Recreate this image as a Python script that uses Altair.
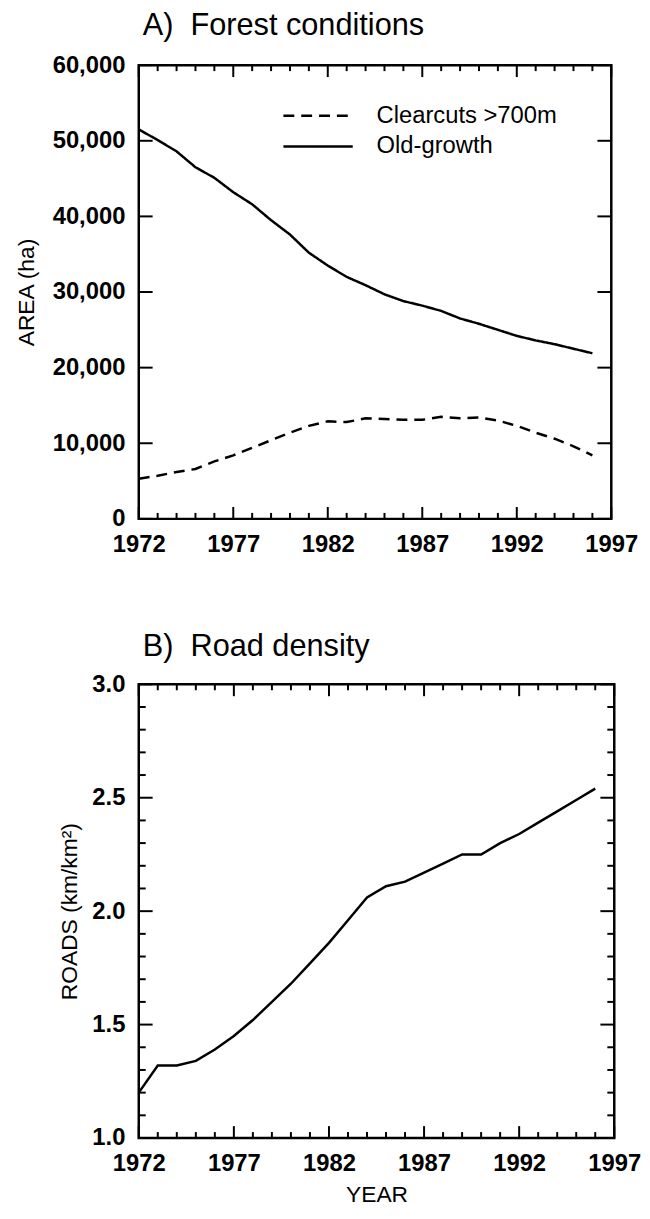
import altair as alt
import pandas as pd

# ---- data ----
years = [1972, 1973, 1974, 1975, 1976, 1977, 1978, 1979, 1980, 1981, 1982, 1983,
         1984, 1985, 1986, 1987, 1988, 1989, 1990, 1991, 1992, 1993, 1994, 1995, 1996]
old_growth = [51500, 50100, 48600, 46500, 45100, 43200, 41600, 39500, 37600, 35200,
              33500, 32000, 30900, 29700, 28800, 28200, 27500, 26500, 25800, 25000,
              24200, 23600, 23100, 22500, 21900]
clearcuts = [5300, 5700, 6200, 6600, 7600, 8400, 9400, 10400, 11400, 12300,
             12900, 12800, 13300, 13200, 13100, 13100, 13500, 13300, 13400, 13000,
             12300, 11400, 10600, 9600, 8400]
roads = [1.20, 1.32, 1.32, 1.34, 1.39, 1.45, 1.52, 1.60, 1.68, 1.77,
         1.86, 1.96, 2.06, 2.11, 2.13, 2.17, 2.21, 2.25, 2.25, 2.30,
         2.34, 2.39, 2.44, 2.49, 2.54]
series_names = ["Clearcuts >700m", "Old-growth"]

# tick positions
x_major = [1972, 1977, 1982, 1987, 1992, 1997]
x_all = [1972, 1973, 1974, 1975, 1976, 1977, 1978, 1979, 1980, 1981, 1982, 1983, 1984,
         1985, 1986, 1987, 1988, 1989, 1990, 1991, 1992, 1993, 1994, 1995, 1996, 1997]
x_minor = [v for v in x_all if v not in x_major]
ya_major = [0, 10000, 20000, 30000, 40000, 50000, 60000]
yb_major = [1.0, 1.5, 2.0, 2.5, 3.0]
yb_all = [1.0, 1.1, 1.2, 1.3, 1.4, 1.5, 1.6, 1.7, 1.8, 1.9, 2.0,
          2.1, 2.2, 2.3, 2.4, 2.5, 2.6, 2.7, 2.8, 2.9, 3.0]
yb_minor = [v for v in yb_all if v not in yb_major]

FONT = "Liberation Sans"
WA, HA = 477, 458
WB, HB = 480, 458

df_a = pd.DataFrame({
    "year": years * 2,
    "area": clearcuts + old_growth,
    "series": [series_names[0]] * len(years) + [series_names[1]] * len(years),
})
df_b = pd.DataFrame({"year": years, "roads": roads})

lab = dict(labelFont=FONT, labelFontSize=24, labelFontWeight="bold", labelColor="black",
           titleFont=FONT, titleFontSize=23, titleFontWeight="normal", titleColor="black",
           grid=False, domain=False)

xscale = alt.Scale(domain=[1972, 1997], nice=False, zero=False)


def x_ticks(xenc, vals, length, H, bottom):
    y0 = H if bottom else 0
    y1 = H - length if bottom else length
    return alt.Chart(pd.DataFrame({"year": vals})).mark_rule(color="black", strokeWidth=2).encode(
        x=xenc, y=alt.value(y0), y2=alt.value(y1),
    )


def y_ticks(yenc, field, vals, length, W, left):
    x0 = 0 if left else W
    x1 = length if left else W - length
    return alt.Chart(pd.DataFrame({field: vals})).mark_rule(color="black", strokeWidth=2).encode(
        y=yenc, x=alt.value(x0), x2=alt.value(x1),
    )


def panel(df, yfield, yscale, ytick_sets, ytitle, ytitle_pos, yfmt, ymajor, W, H,
          title, title_off, xtitle, with_legend):
    x_lab = alt.X("year:Q", scale=xscale,
                  axis=alt.Axis(orient="bottom", values=x_major, format="d", ticks=False,
                                labelFlush=False, labelPadding=14, title=xtitle,
                                titlePadding=8, **lab))
    y_lab = alt.Y(f"{yfield}:Q", scale=yscale,
                  axis=alt.Axis(orient="left", values=ymajor, format=yfmt, ticks=False,
                                labelPadding=14, title=ytitle, **ytitle_pos, **lab))
    if with_legend:
        main = alt.Chart(df).mark_line(color="black", strokeWidth=2.5).encode(
            x=x_lab, y=y_lab,
            strokeDash=alt.StrokeDash(
                "series:N",
                scale=alt.Scale(domain=series_names, range=[[11, 7], [1, 0]]),
                legend=alt.Legend(orient="none", legendX=169, legendY=39, title=None,
                                  symbolType="M-3.5,0H3.5", symbolSize=400,
                                  symbolStrokeWidth=2.5, symbolStrokeColor="black",
                                  labelFont=FONT, labelFontSize=24, labelColor="black",
                                  labelLimit=400, labelOffset=47, rowPadding=7),
            ),
        )
    else:
        main = alt.Chart(df).mark_line(color="black", strokeWidth=2.5).encode(x=x_lab, y=y_lab)

    layers = [main]
    # inward ticks on all four edges (same encodings as the labelled axes, so axes merge)
    for bottom in (True, False):
        layers.append(x_ticks(x_lab, x_major, 12, H, bottom))
        layers.append(x_ticks(x_lab, x_minor, 6, H, bottom))
    for vals, length in ytick_sets:
        for left in (True, False):
            layers.append(y_ticks(y_lab, yfield, vals, length, W, left))

    return alt.layer(*layers).properties(
        width=W, height=H,
        title=alt.Title(title, anchor="start", frame="group", font=FONT, fontSize=31,
                        fontWeight="normal", color="black", dx=4, offset=title_off),
    )


scale_a = alt.Scale(domain=[0, 60000], nice=False)
scale_b = alt.Scale(domain=[1, 3], nice=False, zero=False)

pa = panel(df_a, "area", scale_a, [(ya_major, 14)],
           "AREA (ha)", {"titlePadding": 14}, ",d", ya_major, WA, HA,
           "A)\u00a0\u00a0Forest conditions", 11, None, True)
pb = panel(df_b, "roads", scale_b, [(yb_major, 14), (yb_minor, 7)],
           "ROADS (km/km\u00b2)", {"titleX": -58}, ".1f", yb_major, WB, HB,
           "B)\u00a0\u00a0Road density", 10, "YEAR", False)

chart = alt.vconcat(pa, pb, spacing=71).properties(
    padding={"left": 6, "top": -5, "right": 0, "bottom": 0}
).configure_view(stroke="black", strokeWidth=2.5)

chart.save("out.html", embed_options={"renderer": "svg", "actions": False})
